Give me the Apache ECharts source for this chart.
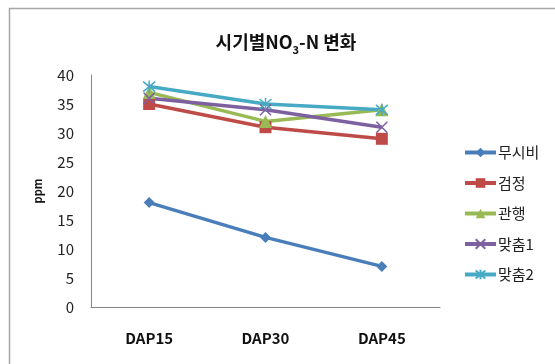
<!DOCTYPE html>
<html>
<head>
<meta charset="utf-8">
<script src="https://cdn.jsdelivr.net/npm/echarts@6/dist/echarts.min.js"></script>
<style>html,body{margin:0;padding:0;background:#fff}#c{width:555px;height:364px}</style>
</head>
<body>
<div id="c"></div>
<script>
const categories = ['DAP15', 'DAP30', 'DAP45'];
const seriesNames = ['무시비', '검정', '관행', '맞춤1', '맞춤2'];
const s무시비 = [18, 12, 7];
const s검정 = [35, 31, 29];
const s관행 = [37, 32, 34];
const s맞춤1 = [36, 34, 31];
const s맞춤2 = [38, 35, 34];
const yTicks = [0, 5, 10, 15, 20, 25, 30, 35, 40];

const values = [s무시비, s검정, s관행, s맞춤1, s맞춤2];
const colors = ['#4A7EBB', '#BE4B48', '#98B954', '#7D60A0', '#46AAC5'];
const symbols = [
  'diamond',
  'rect',
  'triangle',
  'path://M0,0L10,10M10,0L0,10',
  'path://M0,0L10,10M10,0L0,10M5,-1L5,11'
];
const sizes = [11, 12, 13, 11, 12];
const font = '"Noto Sans CJK KR", "Noto Sans", sans-serif';

const chart = echarts.init(document.getElementById('c'));
chart.setOption({
  animation: false,
  backgroundColor: '#fff',
  graphic: [{
    type: 'rect', left: 7, top: 6, z: -1,
    shape: { width: 560, height: 370 },
    style: { fill: 'none', stroke: '#a6a6a6', lineWidth: 1.5 }
  }],
  title: {
    text: '{a|시기별NO}{s|3}{a|-N 변화}',
    left: 281, top: 24, textAlign: 'center',
    textStyle: {
      rich: {
        a: { fontFamily: font, fontSize: 18, fontWeight: 'bold', color: '#111', lineHeight: 26, verticalAlign: 'middle' },
        s: { fontFamily: font, fontSize: 11, fontWeight: 'bold', color: '#111', lineHeight: 11, verticalAlign: 'bottom' }
      }
    }
  },
  grid: { left: 91, right: 115, top: 75, bottom: 57, containLabel: false },
  legend: {
    orient: 'vertical', left: 458, top: 140,
    itemWidth: 31, itemHeight: 12, itemGap: 15.5,
    lineStyle: { width: 4 },
    textStyle: { fontFamily: font, fontSize: 15, color: '#222', lineHeight: 15, padding: [0, 0, 0, -3] },
    data: seriesNames
  },
  xAxis: {
    type: 'category', data: categories, boundaryGap: true,
    axisLine: { lineStyle: { color: '#868686', width: 1 } },
    axisTick: { show: false },
    axisLabel: { fontFamily: font, fontSize: 15, fontWeight: 'bold', color: '#111', margin: 24 }
  },
  yAxis: {
    type: 'value', min: yTicks[0], max: yTicks[yTicks.length - 1], interval: yTicks[1] - yTicks[0],
    name: 'ppm', nameLocation: 'middle', nameRotate: 90, nameGap: 48,
    nameTextStyle: { fontFamily: font, fontSize: 11, fontWeight: 'bold', color: '#111' },
    axisLine: { show: true, lineStyle: { color: '#868686', width: 1 } },
    axisTick: { show: false },
    splitLine: { show: false },
    axisLabel: { fontFamily: font, fontSize: 15, color: '#222', margin: 17 }
  },
  series: seriesNames.map((n, i) => ({
    name: n, type: 'line', data: values[i],
    symbol: symbols[i], symbolSize: sizes[i], showAllSymbol: true,
    lineStyle: { color: colors[i], width: 3.5 },
    itemStyle: { color: colors[i], borderColor: colors[i], borderWidth: i >= 3 ? 1.5 : 0 },
    emphasis: { disabled: true }
  }))
});
</script>
</body>
</html>
